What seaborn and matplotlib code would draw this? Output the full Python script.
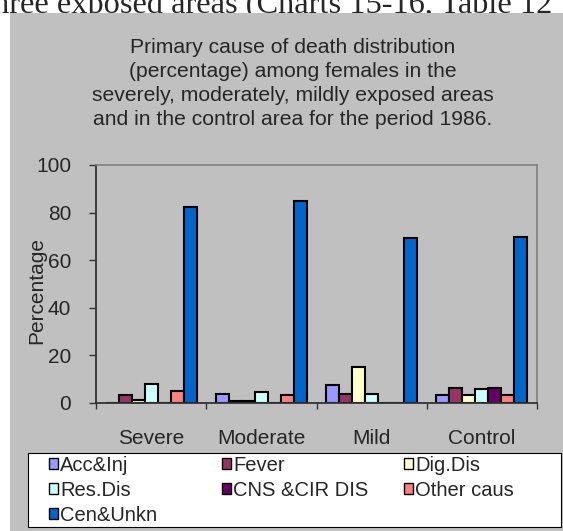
import numpy as np
import pandas as pd
import matplotlib
matplotlib.use('Agg')
import matplotlib.pyplot as plt
from matplotlib.patches import Rectangle, Patch
from matplotlib.ticker import FixedLocator
import seaborn as sns

# values (percent of deaths, females, 1986)
areas = ['Severe', 'Moderate', 'Mild', 'Control']
causes = ['Acc&Inj', 'Fever', 'Dig.Dis', 'Res.Dis', 'CNS &CIR DIS', 'Other caus', 'Cen&Unkn']
acc_inj = [0.0, 3.6, 7.5, 3.2]
fever = [3.5, 0.8, 3.6, 6.2]
dig_dis = [1.2, 0.8, 15.2, 3.2]
res_dis = [7.8, 4.8, 3.6, 6.0]
cns_cir = [0.0, 0.0, 0.0, 6.2]
other_caus = [5.0, 3.5, 0.0, 3.2]
cen_unkn = [82.3, 85.0, 69.2, 69.9]
cause_colors = ['#9999FF', '#993366', '#FFFFCC', '#CCFFFF', '#660066', '#FF8080', '#0066CC']
y_ticks = [0, 20, 40, 60, 80, 100]

title = ('Primary cause of death distribution\n'
         '(percentage) among females in the\n'
         'severely, moderately, mildly exposed areas\n'
         'and in the control area for the period 1986.')
header = 'three exposed areas (Charts 15-16, Table 12'

series = [acc_inj, fever, dig_dis, res_dis, cns_cir, other_caus, cen_unkn]
rows = []
for cause, vals in zip(causes, series):
    for area, v in zip(areas, vals):
        rows.append({'area': area, 'cause': cause, 'pct': v})
df = pd.DataFrame(rows)

sns.set_style('white')
plt.rcParams['font.family'] = ['Liberation Sans', 'DejaVu Sans']

W, H = 563, 531
fx = lambda px: px / W
fy = lambda py: 1 - py / H

fig = plt.figure(figsize=(W / 100, H / 100), dpi=100)
fig.patch.set_facecolor('white')

# text of the page behind the chart, cut off by the chart area
fig.text(fx(552), fy(13.5), header, ha='right', va='baseline',
         family='Liberation Serif', fontsize=23.3, zorder=-2)
fig.patches.append(Rectangle((fx(10), 0), 1 - fx(10), fy(13), transform=fig.transFigure,
                             facecolor='#C0C0C0', edgecolor='none', zorder=-1))

fig.text(fx(293), fy(38), title, ha='center', va='top', fontsize=15.2,
         linespacing=1.33)

ax = fig.add_axes([fx(96), fy(403), fx(537) - fx(96), fy(165) - fy(403)])
ax.set_facecolor('#C0C0C0')
sns.barplot(data=df, x='area', y='pct', hue='cause', hue_order=causes, order=areas,
            palette=cause_colors, saturation=1, width=0.825, gap=0,
            edgecolor='black', linewidth=1.5, legend=False, ax=ax)

ax.set_ylim(0, 100)
ax.set_xlim(-0.5, len(areas) - 0.5)
ax.set_yticks(y_ticks)
ax.set_xlabel('')
ax.set_ylabel('Percentage', fontsize=15)
ax.yaxis.set_label_coords((46 - 96) / 441, (403 - 291) / 238)
ax.tick_params(axis='y', direction='out', length=5, width=1, color='#333333',
               labelsize=15, pad=12.8, left=True)
ax.tick_params(axis='x', which='major', length=0, labelsize=15, pad=18.5)
ax.xaxis.set_minor_locator(FixedLocator(np.arange(-0.5, len(areas), 1.0)))
ax.tick_params(axis='x', which='minor', direction='out', length=4.3, width=1,
               color='#333333', bottom=True)
for side in ['left', 'bottom']:
    ax.spines[side].set_color('#333333')
    ax.spines[side].set_linewidth(1.3)
for side in ['top', 'right']:
    ax.spines[side].set_color('#808080')
    ax.spines[side].set_linewidth(1.2)

# legend box with three columns laid out row by row
fig.patches.append(Rectangle((fx(28.3), fy(527)), fx(561) - fx(28.3), fy(452.7) - fy(527),
                             transform=fig.transFigure, facecolor='white',
                             edgecolor='black', linewidth=0.8, zorder=3))
columns = [[0, 3, 6], [1, 4], [2, 5]]
col_x = [49, 222, 404]
for idx, x in zip(columns, col_x):
    handles = [Patch(facecolor=cause_colors[i], edgecolor='black', linewidth=1) for i in idx]
    leg = fig.legend(handles, [causes[i] for i in idx], loc='upper left',
                     bbox_to_anchor=(fx(x), fy(456)), frameon=False, borderpad=0,
                     borderaxespad=0, fontsize=14.5, handlelength=0.45,
                     handleheight=0.45, handletextpad=0.1, labelspacing=0.3)
    leg.set_zorder(4)

fig.savefig('out.png', dpi=100)
